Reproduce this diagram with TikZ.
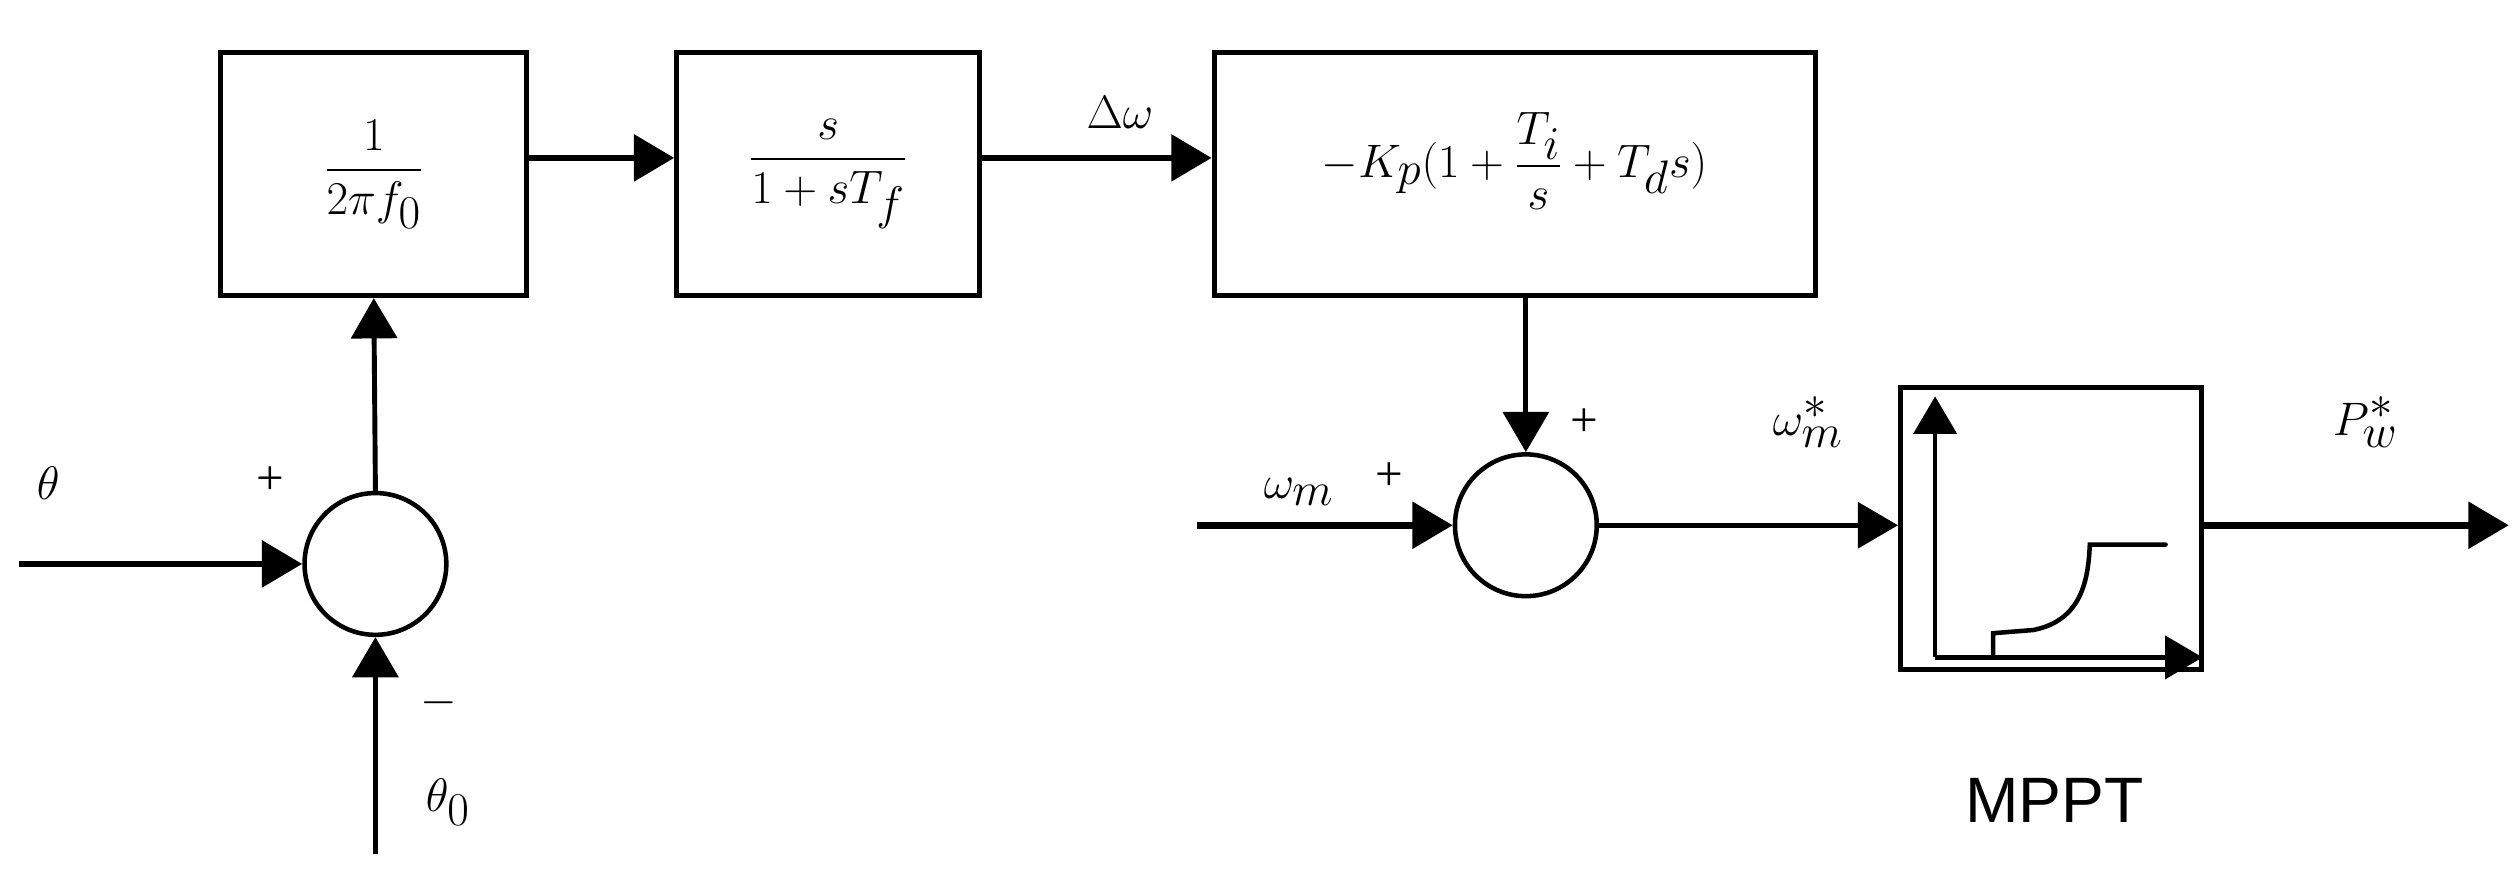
\documentclass[tikz,border=0pt]{standalone}
\usepackage{amsmath}
\usepackage{fontspec}
\setmainfont{Liberation Serif}
\newfontfamily\sansf{Liberation Sans}
\usetikzlibrary{arrows.meta}
\begin{document}
\begin{tikzpicture}[x=0.03cm,y=-0.03cm,
  blk/.style={draw,line width=2.6pt,minimum height=151*0.03cm,inner sep=0},
  sum/.style={draw,circle,line width=2.4pt,minimum size=88*0.03cm,inner sep=0},
  ar/.style={line width=3.6pt,-{Triangle[length=0.75cm,width=0.85cm]}},
  arv/.style={line width=2.6pt,-{Triangle[length=0.75cm,width=0.85cm]}},
  lbl/.style={font=\fontsize{37}{44}\selectfont},
  sm/.style={font=\fontsize{26}{30}\selectfont}]
\useasboundingbox (0,0) rectangle (1564,539);
\node[blk,minimum width=190*0.03cm] (b1) at (232,108) {};
\node[lbl] at (232,108) {$\dfrac{1}{2\pi f_0}$};
\node[blk,minimum width=188*0.03cm] (b2) at (514,108) {};
\node[lbl] at (514,108) {$\dfrac{s}{1+sT_f}$};
\node[blk,minimum width=373*0.03cm] (b3) at (940,108) {};
\node[lbl] at (940,100) {$-K_p(1+\dfrac{T_i}{s}+T_d s)$};
\node[sum] (s1) at (233,350) {};
\node[sum] (s2) at (947,326) {};
\node[draw,line width=2.6pt,minimum width=187*0.03cm,minimum height=175*0.03cm,inner sep=0] (m) at (1273,328) {};
\coordinate (in1) at (12,350);
\coordinate (in0) at (233,530);
\coordinate (inm) at (743,326);
\coordinate (out) at (1557,326);
\draw[ar] (b1.east |- 0,98) -- (b2.west |- 0,98);
\draw[ar] (b2.east |- 0,98) -- (b3.west |- 0,98);
\draw[arv] (s1.north) -- (b1.south);
\draw[ar] (in1) -- (s1.west);
\draw[arv] (in0) -- (s1.south);
\draw[arv] (b3.south -| s2.north) -- (s2.north);
\draw[ar] (inm) -- (s2.west);
\draw[line width=2.6pt,-{Triangle[length=0.75cm,width=0.85cm]}] (s2.east) -- (m.west |- s2.east);
\draw[ar] (m.east |- s2.east) -- (out);
% MPPT curve
\draw[line width=2.4pt,-{Triangle[length=0.7cm,width=0.8cm]}] (1201,408) -- (1201,246);
\draw[line width=2.4pt,-{Triangle[length=0.7cm,width=0.8cm]}] (1201,408) -- (1367,408);
\draw[line width=2.4pt,line cap=round] (1237,406) -- (1237,393) -- (1262,391) .. controls (1292,385) and (1296,360) .. (1297,338) -- (1344,338);
\node[lbl] at (30,300) {$\theta$};
\node[sm] at (168,298) {+};
\node[lbl] at (272,436) {$-$};
\node[lbl] at (278,498) {$\theta_0$};
\node[lbl] at (695,70) {$\Delta\omega$};
\node[sm] at (983,262) {+};
\node[lbl] at (806,305) {$\omega_m$};
\node[sm] at (862,296) {+};
\node[lbl] at (1122,262) {$\omega_m^*$};
\node[lbl] at (1468,262) {$P_w^*$};
\node[font=\sansf\fontsize{34}{40}\selectfont] (mt) at (1275,497) {MPPT};
\end{tikzpicture}
\end{document}
